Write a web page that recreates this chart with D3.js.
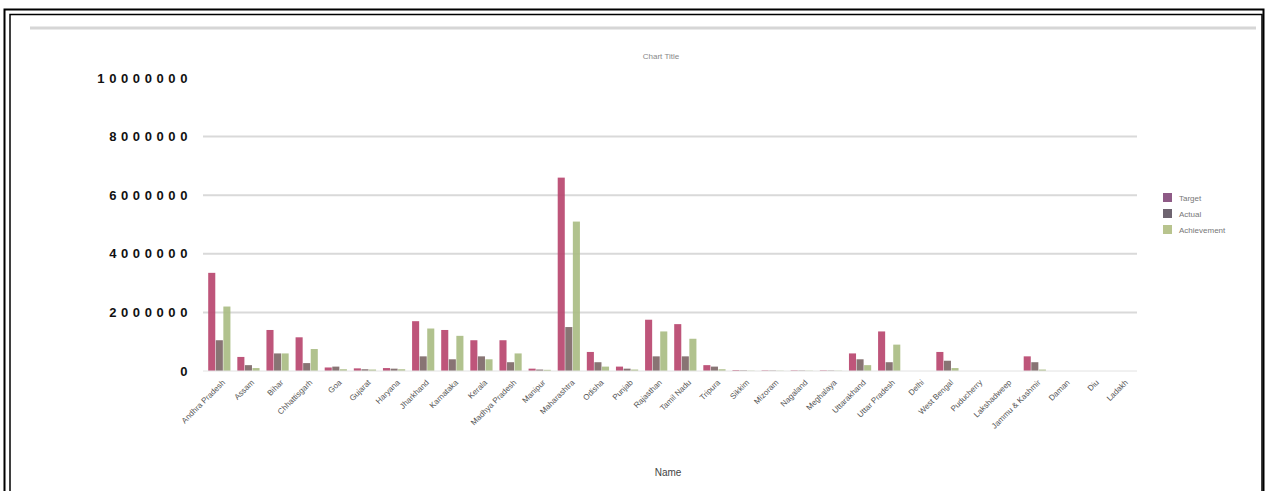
<!DOCTYPE html>
<html lang="en">
<head>
    <meta charset="UTF-8">
    <title>Grouped Bar Chart with D3.js</title>
    <script src="https://d3js.org/d3.v7.min.js"></script>
    <style>
        body { margin: 0; background: #fff; }
    </style>
</head>
<body>
    <svg id="bar-chart"></svg>
    <script>
        // categories (labels are unreadable in the source, approximated)
        const categories = [
            "Andhra Pradesh", "Assam", "Bihar", "Chhattisgarh", "Goa", "Gujarat", "Haryana",
            "Jharkhand", "Karnataka", "Kerala", "Madhya Pradesh", "Manipur", "Maharashtra",
            "Odisha", "Punjab", "Rajasthan", "Tamil Nadu", "Tripura", "Sikkim", "Mizoram",
            "Nagaland", "Meghalaya", "Uttarakhand", "Uttar Pradesh", "Delhi", "West Bengal",
            "Puducherry", "Lakshadweep", "Jammu & Kashmir", "Daman", "Diu", "Ladakh"
        ];
        const seriesNames = ["Target", "Actual", "Achievement"];
        const seriesA = [3350000, 480000, 1400000, 1150000, 120000, 90000, 100000, 1700000, 1400000, 1050000,
            1050000, 80000, 6600000, 650000, 150000, 1750000, 1600000, 200000, 30000, 20000,
            20000, 20000, 600000, 1350000, 0, 650000, 0, 0, 500000, 0, 0, 0];
        const seriesB = [1050000, 200000, 600000, 270000, 150000, 60000, 80000, 500000, 400000, 500000,
            300000, 50000, 1500000, 300000, 80000, 500000, 500000, 150000, 20000, 15000,
            15000, 15000, 400000, 300000, 0, 350000, 0, 0, 300000, 0, 0, 0];
        const seriesC = [2200000, 100000, 600000, 750000, 60000, 50000, 60000, 1450000, 1200000, 400000,
            600000, 40000, 5100000, 150000, 50000, 1350000, 1100000, 60000, 10000, 10000,
            10000, 10000, 200000, 900000, 0, 100000, 0, 0, 50000, 0, 0, 0];
        const yTicks = [0, 2000000, 4000000, 6000000, 8000000, 10000000];

        const colors = ["#b8466f", "#7e6868", "#aabd84"];
        const legendColors = ["#8e5a86", "#6e6470", "#b8c48e"];

        const width = 1268, height = 491;
        const svg = d3.select("#bar-chart").attr("width", width).attr("height", height)
            .style("font-family", "'Liberation Sans', Arial, sans-serif");

        // frame
        svg.append("rect").attr("x", 4.5).attr("y", 9.5).attr("width", 1259).attr("height", 600)
            .attr("fill", "none").attr("stroke", "#000").attr("stroke-width", 2);
        svg.append("rect").attr("x", 10).attr("y", 14.5).attr("width", 1252).attr("height", 600)
            .attr("fill", "none").attr("stroke", "#000").attr("stroke-width", 1.5);
        svg.append("line").attr("x1", 30).attr("x2", 1256).attr("y1", 28).attr("y2", 28)
            .attr("stroke", "#d6d6d6").attr("stroke-width", 3);

        const x0 = d3.scaleBand().domain(categories).range([205, 1137]).paddingInner(0.22).paddingOuter(0.11);
        const x1 = d3.scaleBand().domain(seriesNames).range([0, x0.bandwidth()]);
        const y = d3.scaleLinear().domain([0, 10000000]).range([371, 78]);

        // gridlines
        svg.append("g").selectAll("line").data(yTicks.filter(d => d > 0 && d < 10000000)).join("line")
            .attr("x1", 203).attr("x2", 1137).attr("y1", d => y(d)).attr("y2", d => y(d))
            .attr("stroke", "#d9d9d9").attr("stroke-width", 2);

        // y axis labels
        const yAxis = svg.append("g").attr("transform", "translate(192,0)")
            .call(d3.axisLeft(y).tickValues(yTicks).tickSize(0).tickPadding(0).tickFormat(d3.format("d")));
        yAxis.select(".domain").remove();
        yAxis.selectAll("text").attr("font-size", 13).attr("font-weight", "bold")
            .attr("letter-spacing", "4.6px").attr("fill", "#111");

        // bars
        const table = categories.map((c, i) => ({ cat: c, vals: [seriesA[i], seriesB[i], seriesC[i]] }));
        const groups = svg.append("g").selectAll("g").data(table).join("g")
            .attr("transform", d => `translate(${x0(d.cat)},0)`);
        groups.selectAll("rect").data(d => d.vals.map((v, k) => ({ k, v }))).join("rect")
            .attr("x", d => x1(seriesNames[d.k]))
            .attr("width", x1.bandwidth() - 0.5)
            .attr("y", d => y(d.v))
            .attr("height", d => y(0) - y(d.v))
            .attr("fill", d => colors[d.k])
            .attr("opacity", 0.92);

        // baseline
        svg.append("line").attr("x1", 203).attr("x2", 1137).attr("y1", y(0)).attr("y2", y(0))
            .attr("stroke", "#e2e2e2").attr("stroke-width", 1);

        // x axis labels
        const xAxis = svg.append("g").attr("transform", `translate(0,${y(0)})`)
            .call(d3.axisBottom(x0).tickSize(0).tickPadding(0));
        xAxis.select(".domain").remove();
        xAxis.selectAll("text")
            .attr("font-size", 8).attr("fill", "#555")
            .attr("text-anchor", "end")
            .attr("dy", 0).attr("y", 0)
            .attr("transform", "translate(6,12) rotate(-45)");

        // title and axis title
        svg.append("text").attr("x", 661).attr("y", 59).attr("text-anchor", "middle")
            .attr("font-size", 8).attr("fill", "#888").text("Chart Title");
        svg.append("text").attr("x", 668).attr("y", 476).attr("text-anchor", "middle")
            .attr("font-size", 10).attr("fill", "#444").text("Name");

        // legend
        const legend = svg.append("g").attr("transform", "translate(1163,193)");
        const items = legend.selectAll("g").data(seriesNames).join("g")
            .attr("transform", (d, i) => `translate(0,${i * 16})`);
        items.append("rect").attr("width", 9).attr("height", 9).attr("fill", (d, i) => legendColors[i]);
        items.append("text").attr("x", 16).attr("y", 8).attr("font-size", 8).attr("fill", "#777").text(d => d);
    </script>
</body>
</html>
